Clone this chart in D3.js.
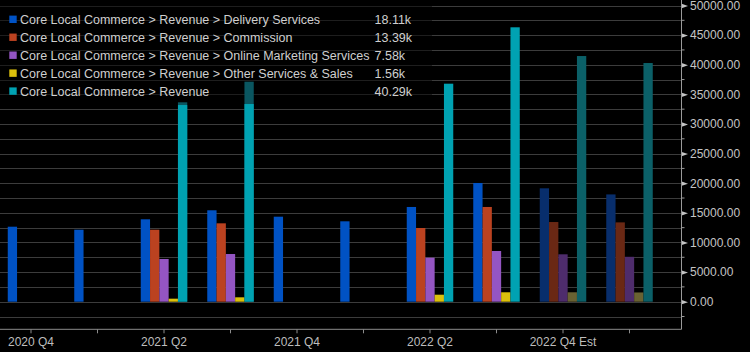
<!DOCTYPE html>
<html>
<head>
<meta charset="utf-8">
<script src="https://cdn.jsdelivr.net/npm/d3@7"></script>
<style>
  html, body { margin: 0; padding: 0; background: #000; }
  svg { display: block; }
  text { font-family: "Liberation Sans", Arial, sans-serif; }
</style>
</head>
<body>
<script>
// ---------- data ----------
const quarters = ["2020 Q4","2021 Q1","2021 Q2","2021 Q3","2021 Q4","2022 Q1","2022 Q2","2022 Q3","2022 Q4 Est","2023 Q1 Est"];
const tickLabels = ["2020 Q4","","2021 Q2","","2021 Q4","","2022 Q2","","2022 Q4 Est",""];
const isEstimate = [false,false,false,false,false,false,false,false,true,true];

const seriesNames = [
  "Core Local Commerce > Revenue > Delivery Services",
  "Core Local Commerce > Revenue > Commission",
  "Core Local Commerce > Revenue > Online Marketing Services",
  "Core Local Commerce > Revenue > Other Services & Sales",
  "Core Local Commerce > Revenue"
];
const legendValues = ["18.11k","13.39k","7.58k","1.56k","40.29k"];

const deliveryServices = [12660, 12150, 13910, 15430, 14350, 13570, 15990, 20040, 19140, 18110];
const commission       = [null,  null,  12150, 13230, null,  null,  12440, 15990, 13450, 13390];
const onlineMarketing  = [null,  null,  7210,  8050,  null,  null,  7430,  8560,  8000,  7580];
const otherServices    = [null,  null,  510,   740,   null,  null,  1180,  1590,  1590,  1560];
const revenue          = [null,  null,  33200, 33370, null,  null,  36800, 46320, 41470, 40290];
const revenueEstimate  = [null,  null,  33660, 37140, null,  null,  null,  null,  null,  null];

const yMajorTicks = [0,5000,10000,15000,20000,25000,30000,35000,40000,45000,50000];
const yMinorTicks = [-2500,2500,7500,12500,17500,22500,27500,32500,37500,42500,47500];
const gridValues  = [-2500,0,2500,5000,7500,10000,12500,15000,17500,20000,22500,25000,27500,30000,32500,35000,37500,40000,42500,45000,47500,50000];

const colors     = ["#0052c4","#bb4220","#9455c2","#dcc00c","#00a2b2"];
const darkColors = ["#082e6c","#6a2814","#4e2c6c","#6a6232","#0b6068"];
const capColor   = "#0a5660";

const seriesValues = [deliveryServices, commission, onlineMarketing, otherServices, revenue];

// ---------- layout ----------
const W = 750, H = 352;
const axisX = 681, axisBottomY = 329.3;

const svg = d3.select("body").append("svg").attr("width", W).attr("height", H);
svg.append("rect").attr("width", W).attr("height", H).attr("fill", "#000");

const x0 = d3.scaleBand().domain(quarters).range([-2.25, 662.75]).paddingInner(0).paddingOuter(0);
const x1 = d3.scaleBand().domain(d3.range(5)).range([0, x0.bandwidth()]).paddingInner(0).paddingOuter(1.075);
const y = d3.scaleLinear().domain([0, 50000]).range([301.7, 5.5]);

// gridlines
svg.append("g").selectAll("line").data(gridValues).join("line")
  .attr("x1", 0).attr("x2", axisX)
  .attr("y1", d => Math.round(y(d)) + 0.5).attr("y2", d => Math.round(y(d)) + 0.5)
  .attr("stroke", "#3c3c3c").attr("stroke-width", 1);

// legend backdrop
svg.append("rect").attr("x", 0).attr("y", 0).attr("width", 432).attr("height", 100)
  .attr("fill", "#000").attr("opacity", 0.5);

// estimate caps (behind)
svg.append("g").selectAll("rect").data(quarters.map((q, i) => ({q, v: revenueEstimate[i]})).filter(d => d.v != null))
  .join("rect")
  .attr("x", d => x0(d.q) + x1(4))
  .attr("width", x1.bandwidth())
  .attr("y", d => y(d.v))
  .attr("height", d => y(0) - y(d.v))
  .attr("fill", capColor);

// bars
seriesValues.forEach((vals, j) => {
  const data = quarters.map((q, i) => ({q, i, v: vals[i]})).filter(d => d.v != null);
  svg.append("g").selectAll("rect").data(data).join("rect")
    .attr("x", d => x0(d.q) + x1(j))
    .attr("width", x1.bandwidth())
    .attr("y", d => y(d.v))
    .attr("height", d => y(0) - y(d.v))
    .attr("fill", d => isEstimate[d.i] ? darkColors[j] : colors[j]);
});

// x axis
const xAxis = d3.axisBottom(x0).tickFormat((d, i) => tickLabels[i]).tickSizeInner(4).tickSizeOuter(0).tickPadding(4.2);
const gx = svg.append("g").attr("transform", `translate(0,${axisBottomY})`).call(xAxis);
gx.select(".domain").remove();
gx.selectAll(".tick line").attr("stroke", "#8c8c8c");
gx.selectAll(".tick text").attr("fill", "#bdbdbd").attr("font-size", 12)
  .attr("font-family", "'Liberation Sans', Arial, sans-serif");
svg.append("line").attr("x1", 0).attr("x2", axisX + 0.5)
  .attr("y1", axisBottomY).attr("y2", axisBottomY).attr("stroke", "#8c8c8c");

// y axis
const yAxis = d3.axisRight(y).tickValues(yMajorTicks).tickFormat(d3.format(".2f")).tickSizeInner(0).tickSizeOuter(0).tickPadding(9);
const gy = svg.append("g").attr("transform", `translate(${axisX},0)`).call(yAxis);
gy.select(".domain").remove();
gy.selectAll(".tick text").attr("fill", "#c4c4c4").attr("font-size", 12)
  .attr("font-family", "'Liberation Sans', Arial, sans-serif");
gy.selectAll(".tick").append("path").attr("d", "M0,-2.4L7,0L0,2.4Z").attr("fill", "#c4c4c4");
svg.append("g").selectAll("line").data(yMinorTicks).join("line")
  .attr("x1", axisX).attr("x2", axisX + 3.5)
  .attr("y1", d => y(d)).attr("y2", d => y(d))
  .attr("stroke", "#9a9a9a");
svg.append("line").attr("x1", axisX + 0.5).attr("x2", axisX + 0.5)
  .attr("y1", 0).attr("y2", axisBottomY).attr("stroke", "#9a9a9a");

// legend
const legend = svg.append("g");
seriesNames.forEach((name, j) => {
  const cy = 19.3 + j * 17.95;
  legend.append("rect").attr("x", 9.3).attr("y", cy - 3.7).attr("width", 7.4).attr("height", 7.4).attr("fill", colors[j]);
  legend.append("text").attr("x", 20).attr("y", cy + 4.4).attr("font-size", 12.5).attr("fill", "#cfcfcf").text(name);
  legend.append("text").attr("x", 374.5).attr("y", cy + 4.4).attr("font-size", 12.5).attr("fill", "#cfcfcf").text(legendValues[j]);
});
</script>
</body>
</html>
